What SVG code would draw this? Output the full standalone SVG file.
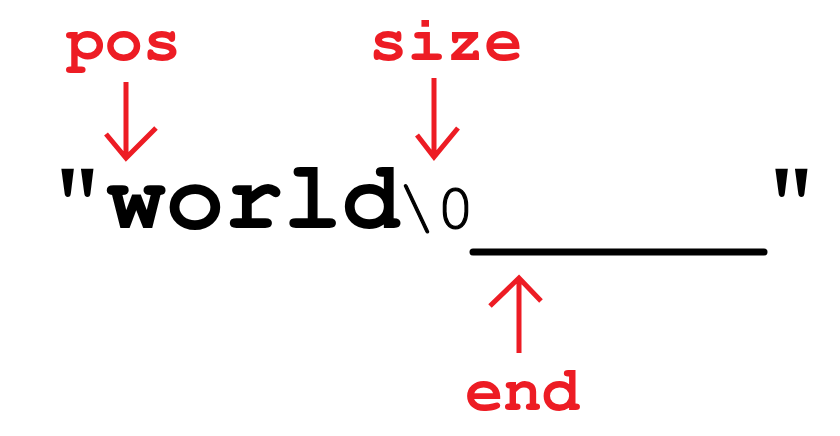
<svg xmlns="http://www.w3.org/2000/svg" width="840" height="436" viewBox="0 0 840 436">
<style>
.lbl{font-family:"FreeMono","Liberation Mono",monospace;font-weight:bold;font-size:64px;fill:#ED1C24}
.main{font-family:"FreeMono","Liberation Mono",monospace;font-weight:bold;font-size:98px;fill:#000}
.nul{font-family:"FreeMono","Liberation Mono",monospace;font-weight:normal;font-size:65px;fill:#000;stroke:#000;stroke-width:1.2}
.arr{stroke:#ED1C24;stroke-width:5;fill:none;stroke-linecap:butt;stroke-linejoin:miter}
</style>
<rect width="840" height="436" fill="#fff"/>
<g id="label-pos"><text class="lbl" x="66" y="60">pos</text></g>
<g id="label-size"><text class="lbl" x="369" y="60">size</text></g>
<g id="label-end"><text class="lbl" x="465" y="410">end</text></g>
<g id="string">
<text class="main" x="48" y="228">"world</text>
<text class="nul" x="397" y="228">\0</text>
<line x1="473" y1="252" x2="764" y2="252" stroke="#000" stroke-width="7" stroke-linecap="round"/>
<text class="main" x="762" y="228">"</text>
</g>
<g id="connectors">
<path class="arr" d="M126,82 V158 M106,134 L126,158 L156,128"/>
<path class="arr" d="M434,78 V157 M417,135 L434,157 L458,128"/>
<path class="arr" d="M519,353 V279 M490,306 L519,278 L541,301"/>
</g>
</svg>
